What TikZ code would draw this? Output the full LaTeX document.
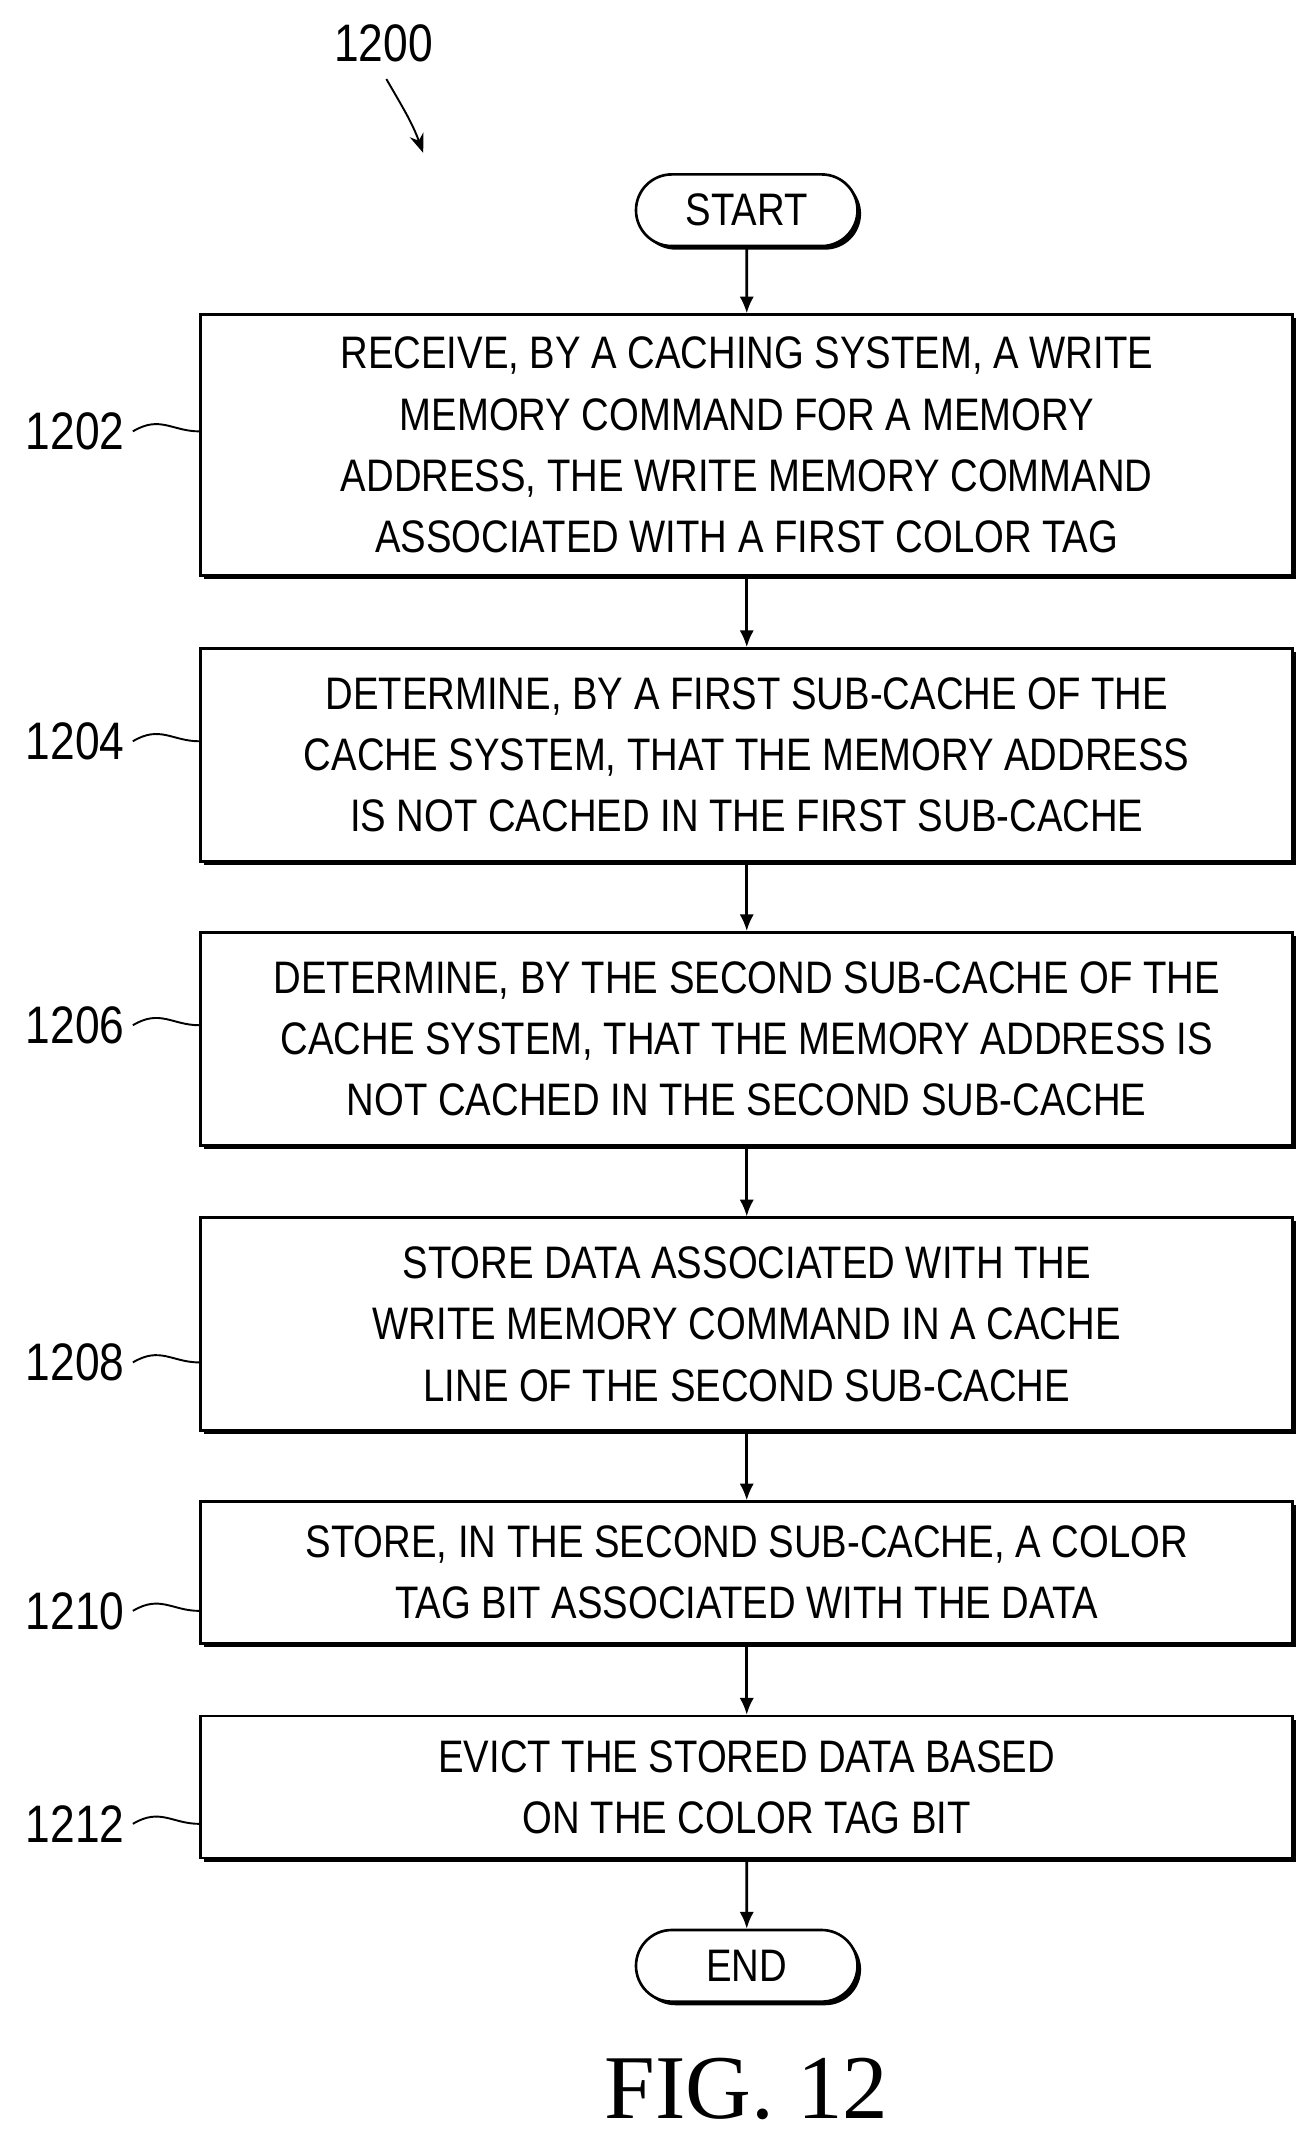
\documentclass[tikz,border=0pt]{standalone}
\usepackage{fontspec}
\setmainfont{Liberation Sans}[FakeStretch=0.84]
\newfontfamily\figfont{Liberation Serif}
\usetikzlibrary{positioning,shadows,shapes.misc,arrows.meta}

\tikzset{
    stepbox/.style={draw, line width=1.1pt, fill=white, minimum width=16cm, align=center,
        font=\fontsize{19}{25.5}\selectfont, drop shadow={shadow xshift=1.5pt, shadow yshift=-1.5pt, fill=black, opacity=1}},
    term/.style={draw, line width=1.1pt, fill=white, rounded rectangle, minimum width=3.48cm,
        minimum height=1.05cm, font=\fontsize{19}{22}\selectfont,
        drop shadow={shadow xshift=1.5pt, shadow yshift=-1.5pt, fill=black, opacity=1}},
    flow/.style={line width=1.1pt, -{Latex[length=7pt,width=6pt]}},
    tag/.style={font=\fontsize{22}{24}\selectfont},
    lead/.style={line width=0.8pt}
}

\begin{document}
\begin{tikzpicture}[x=0.02cm, y=-0.02cm]
    \useasboundingbox (0,0) rectangle (960,1561);

    % terminals
    \node[term] (start) at (547,154) {START};
    \node[term] (stop) at (547,1440) {END};

    % steps
    \node[stepbox, minimum height=3.82cm] (s1202) at (547,326) {RECEIVE, BY A CACHING SYSTEM, A WRITE\\MEMORY COMMAND FOR A MEMORY\\ADDRESS, THE WRITE MEMORY COMMAND\\ASSOCIATED WITH A FIRST COLOR TAG};
    \node[stepbox, minimum height=3.12cm] (s1204) at (547,553) {DETERMINE, BY A FIRST SUB-CACHE OF THE\\CACHE SYSTEM, THAT THE MEMORY ADDRESS\\IS NOT CACHED IN THE FIRST SUB-CACHE};
    \node[stepbox, minimum height=3.12cm] (s1206) at (547,761) {DETERMINE, BY THE SECOND SUB-CACHE OF THE\\CACHE SYSTEM, THAT THE MEMORY ADDRESS IS\\NOT CACHED IN THE SECOND SUB-CACHE};
    \node[stepbox, minimum height=3.12cm] (s1208) at (547,970) {STORE DATA ASSOCIATED WITH THE\\WRITE MEMORY COMMAND IN A CACHE\\LINE OF THE SECOND SUB-CACHE};
    \node[stepbox, minimum height=2.08cm] (s1210) at (547,1152) {STORE, IN THE SECOND SUB-CACHE, A COLOR\\TAG BIT ASSOCIATED WITH THE DATA};
    \node[stepbox, minimum height=2.08cm] (s1212) at (547,1309) {EVICT THE STORED DATA BASED\\ON THE COLOR TAG BIT};

    % arrows
    \draw[flow] (start) -- (s1202);
    \draw[flow] (s1202) -- (s1204);
    \draw[flow] (s1204) -- (s1206);
    \draw[flow] (s1206) -- (s1208);
    \draw[flow] (s1208) -- (s1210);
    \draw[flow] (s1210) -- (s1212);
    \draw[flow] (s1212) -- (stop);

    % reference numerals
    \node[tag] (n1200) at (281,32) {1200};
    \coordinate (p1200) at (310,112);
    \draw[lead, -{Stealth[length=8pt,width=6pt]}] (n1200.south) ++(2,6) to[out=-60, in=110] (p1200);

    \foreach \n/\y in {1202/316, 1204/543, 1206/751, 1208/998, 1210/1180, 1212/1336} {
        \node[tag] (n\n) at (55,\y) {\n};
        \draw[lead] (n\n.east) .. controls +(20,-12) and +(-20,0) .. (s\n.west |- 0,\y);
    }

    \node[font=\figfont\fontsize{38}{40}\selectfont] (fig) at (547,1530) {FIG. 12};
\end{tikzpicture}
\end{document}
